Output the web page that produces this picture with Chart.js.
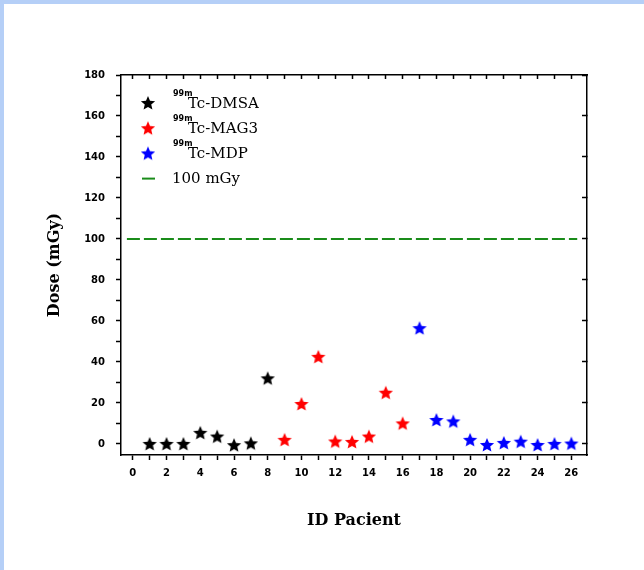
<!DOCTYPE html>
<html>
<head>
<meta charset="utf-8">
<script src="https://cdn.jsdelivr.net/npm/chart.js@4.4.1/dist/chart.umd.min.js"></script>
<style>
  html, body { margin: 0; padding: 0; background: #fff; }
  #wrap { position: relative; width: 644px; height: 570px; }
  #frameTop { position: absolute; left: 0; top: 0; width: 644px; height: 4px; background: #b5cff7; }
  #frameLeft { position: absolute; left: 0; top: 0; width: 4px; height: 570px; background: #b5cff7; }
</style>
</head>
<body>
<div id="wrap">
  <canvas id="doseChart" width="644" height="570"></canvas>
  <div id="frameTop"></div>
  <div id="frameLeft"></div>
</div>
<script>
// data
const dmsaIds = [1, 2, 3, 4, 5, 6, 7, 8];
const dmsaDose = [0, 0, 0, 5.4, 3.6, -0.6, 0.3, 32];
const mag3Ids = [9, 10, 11, 12, 13, 14, 15, 16];
const mag3Dose = [2, 19.5, 42.5, 1.2, 1, 3.6, 25, 10];
const mdpIds = [17, 18, 19, 20, 21, 22, 23, 24, 25, 26];
const mdpDose = [56.5, 11.7, 11, 2, -0.5, 0.5, 1.1, -0.5, 0, 0.2];
const limitX = [-0.35, 26.35];
const limitDose = 100;
const seriesNames = ['Tc-DMSA', 'Tc-MAG3', 'Tc-MDP'];
const isotope = '99m';
const limitName = '100 mGy';

// filled 5 point star as point style
function makeStar(color) {
    const c = document.createElement('canvas');
    c.width = 16; c.height = 16;
    const g = c.getContext('2d');
    g.fillStyle = color;
    g.beginPath();
    for (let i = 0; i < 10; i++) {
        const r = i % 2 === 0 ? 7.5 : 3.4;
        const a = -Math.PI / 2 + i * Math.PI / 5;
        g.lineTo(8 + r * Math.cos(a), 8.5 + r * Math.sin(a));
    }
    g.closePath();
    g.fill();
    return c;
}

const stars = {
    black: makeStar('#000000'),
    red: makeStar('#ff0000'),
    blue: makeStar('#0000ff')
};

const toPoints = (xs, ys) => xs.map((x, i) => ({ x: x, y: ys[i] }));

// legend drawn inside the plot, top left
const insideLegend = {
    id: 'insideLegend',
    afterDraw(chart) {
        const ctx = chart.ctx;
        const x0 = 148, y0 = 103, step = 25.2;
        ctx.save();
        chart.data.datasets.forEach((ds, i) => {
            const y = y0 + i * step;
            if (ds.type === 'line') {
                ctx.strokeStyle = ds.borderColor;
                ctx.lineWidth = 2;
                ctx.beginPath();
                ctx.moveTo(x0 - 6, y);
                ctx.lineTo(x0 + 7, y);
                ctx.stroke();
                ctx.fillStyle = '#000';
                ctx.font = '15px "DejaVu Serif"';
                ctx.textBaseline = 'middle';
                ctx.fillText(ds.label, 172, y + 1);
            } else {
                ctx.drawImage(ds.pointStyle, x0 - 8, y - 8);
                ctx.fillStyle = '#000';
                ctx.font = 'bold 8px "DejaVu Sans"';
                ctx.textBaseline = 'middle';
                ctx.fillText(isotope, 173, y - 9);
                ctx.font = '15px "DejaVu Serif"';
                ctx.fillText(ds.label, 188, y + 1);
            }
        });
        ctx.restore();
    }
};

const tickFont = { family: 'DejaVu Sans', size: 10, weight: 'bold' };
const inRange = (s, t) => t.value >= s.min - 1e-9 && t.value <= s.max + 1e-9;
const onTens = s => { s.ticks = s.ticks.filter(t => inRange(s, t) && Math.abs(t.value % 10) < 1e-6); };
const onUnits = s => { s.ticks = s.ticks.filter(t => inRange(s, t) && Number.isInteger(t.value)); };
const onTwenties = s => { s.ticks = s.ticks.filter(t => inRange(s, t) && Math.abs(t.value % 20) < 1e-6); };

new Chart(document.getElementById('doseChart'), {
    type: 'scatter',
    data: {
        datasets: [
            { label: seriesNames[0], data: toPoints(dmsaIds, dmsaDose), pointStyle: stars.black, backgroundColor: '#000' },
            { label: seriesNames[1], data: toPoints(mag3Ids, mag3Dose), pointStyle: stars.red, backgroundColor: '#f00' },
            { label: seriesNames[2], data: toPoints(mdpIds, mdpDose), pointStyle: stars.blue, backgroundColor: '#00f' },
            {
                type: 'line', label: limitName,
                data: limitX.map(x => ({ x: x, y: limitDose })),
                borderColor: '#1a8c1a', borderWidth: 2, borderDash: [13, 4],
                pointRadius: 0, fill: false
            }
        ]
    },
    options: {
        responsive: false,
        animation: false,
        devicePixelRatio: 1,
        layout: { padding: { left: 45, top: 75, right: 57, bottom: 40 } },
        plugins: { legend: { display: false }, tooltip: { enabled: false } },
        scales: {
            x: {
                type: 'linear', position: 'bottom', min: -0.7, max: 26.93,
                afterBuildTicks: onUnits,
                afterFit: s => { s.height = 75; },
                grid: { drawOnChartArea: false, tickLength: 5, tickColor: '#000', tickWidth: 1.5 },
                border: { color: '#000', width: 1.5 },
                ticks: {
                    stepSize: 1, includeBounds: false, autoSkip: false, maxRotation: 0, padding: 7,
                    color: '#000', font: tickFont,
                    callback: v => (v % 2 === 0 ? String(v) : '')
                },
                title: {
                    display: true, text: 'ID Pacient', color: '#000',
                    font: { family: 'DejaVu Serif', size: 16, weight: 'bold' },
                    padding: { top: 0, bottom: 0 }
                }
            },
            x2: {
                type: 'linear', position: 'top', min: -0.7, max: 26.93,
                afterBuildTicks: onUnits,
                afterFit: s => { s.height = 0; },
                grid: { drawOnChartArea: false, tickLength: -4, tickColor: '#000', tickWidth: 1.5 },
                border: { color: '#000', width: 1.5 },
                ticks: { display: false, stepSize: 1, includeBounds: false, autoSkip: false }
            },
            y: {
                type: 'linear', position: 'left', min: -5.4, max: 180,
                afterBuildTicks: onTens,
                afterFit: s => { s.width = 76; },
                grid: { drawOnChartArea: false, tickLength: 5, tickColor: '#000', tickWidth: 1.5 },
                border: { color: '#000', width: 1.5 },
                ticks: {
                    stepSize: 10, includeBounds: false, autoSkip: false, padding: 11,
                    color: '#000', font: tickFont,
                    callback: v => (v % 20 === 0 ? String(v) : '')
                },
                title: {
                    display: true, text: 'Dose (mGy)', color: '#000',
                    font: { family: 'DejaVu Serif', size: 16, weight: 'bold' },
                    padding: { top: 0, bottom: 0 }
                }
            },
            y2: {
                type: 'linear', position: 'right', min: -5.4, max: 180,
                afterBuildTicks: onTwenties,
                afterFit: s => { s.width = 0; },
                grid: { drawOnChartArea: false, tickLength: -5, tickColor: '#000', tickWidth: 1.5 },
                border: { color: '#000', width: 1.5 },
                ticks: { display: false, stepSize: 10, includeBounds: false, autoSkip: false }
            }
        }
    },
    plugins: [insideLegend]
});
</script>
</body>
</html>
